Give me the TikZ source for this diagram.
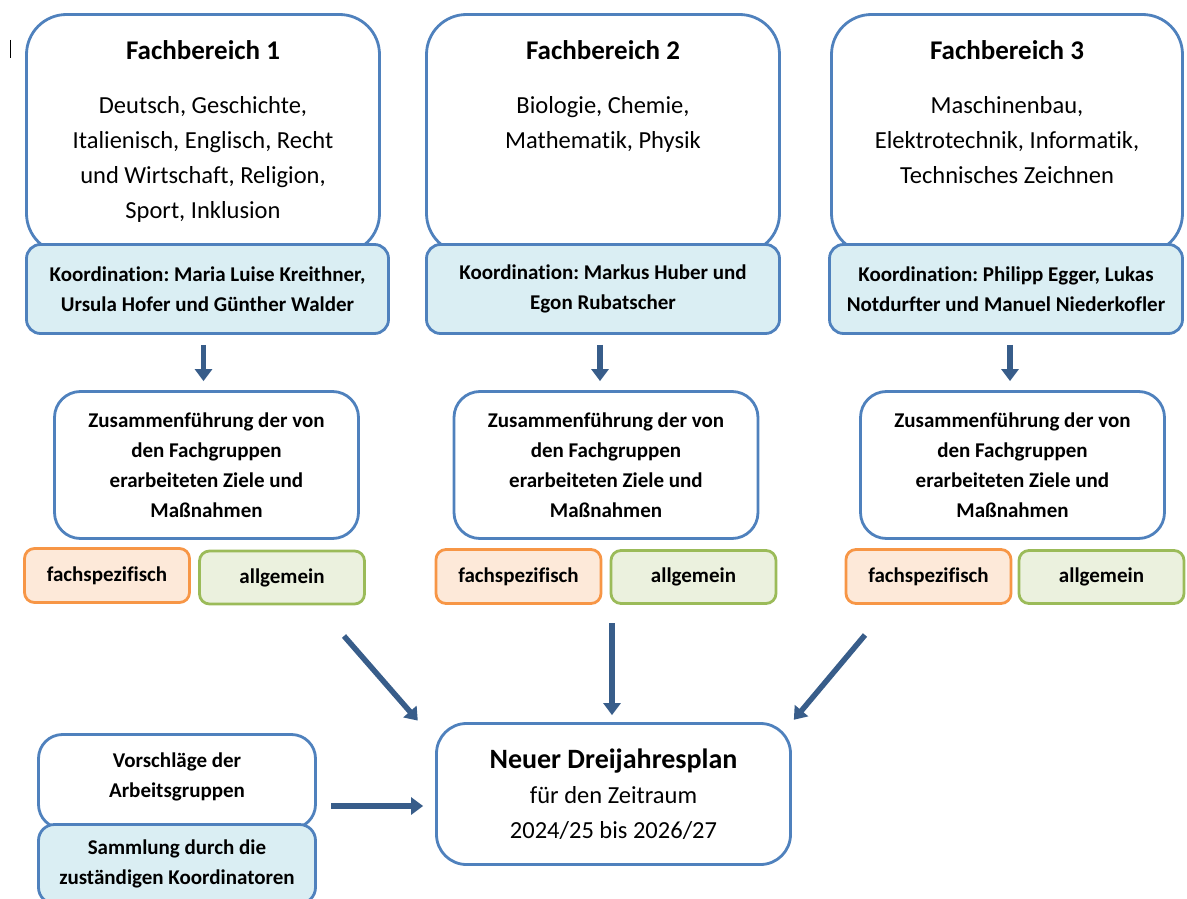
\documentclass[tikz,border=0pt]{standalone}
\usepackage{fontspec}
\setmainfont{Carlito}[Ligatures={NoCommon,NoRare,NoDiscretionary}]
\frenchspacing
\usetikzlibrary{positioning,arrows.meta}
\usepackage{xcolor}
\definecolor{ofblue}{RGB}{79,129,189}
\definecolor{koordfill}{RGB}{218,238,243}
\definecolor{arrowblue}{RGB}{56,93,138}
\definecolor{fachorange}{RGB}{247,150,70}
\definecolor{fachfill}{RGB}{253,233,217}
\definecolor{allggreen}{RGB}{155,187,89}
\definecolor{allgfill}{RGB}{235,241,222}
\newcommand{\fbbodyfont}{\fontsize{24.5}{35}\selectfont}
\newcommand{\smallbold}{\bfseries\fontsize{21}{30}\selectfont}
\tikzset{
  fbbox/.style={
    rectangle,
    draw=ofblue,
    line width=2.8pt,
    rounded corners=40pt,
    fill=white,
    minimum width=353pt,
    minimum height=239pt
  },
  koordbox/.style={
    rectangle,
    draw=ofblue,
    line width=2.8pt,
    rounded corners=14pt,
    fill=koordfill,
    minimum height=89pt,
    align=center,
    font=\smallbold
  },
  fbtitle/.style={
    inner sep=0pt,
    font=\bfseries\fontsize{27}{32}\selectfont
  },
  fbtext/.style={
    inner sep=0pt,
    align=center,
    font=\fbbodyfont
  },
  midbox/.style={
    rectangle,
    draw=ofblue,
    line width=2.8pt,
    rounded corners=26pt,
    fill=white,
    minimum width=304pt,
    minimum height=147pt,
    align=center,
    font=\smallbold
  },
  fachbox/.style={
    rectangle,
    draw=fachorange,
    line width=2.8pt,
    rounded corners=10pt,
    fill=fachfill,
    minimum width=165pt,
    minimum height=54pt,
    font=\smallbold
  },
  allgbox/.style={
    rectangle,
    draw=allggreen,
    line width=2.8pt,
    rounded corners=10pt,
    fill=allgfill,
    minimum width=165pt,
    minimum height=53pt,
    font=\smallbold
  },
  planbox/.style={
    rectangle,
    draw=ofblue,
    line width=2.8pt,
    rounded corners=30pt,
    fill=white,
    minimum width=354pt,
    minimum height=141pt,
    align=center,
    font=\fbbodyfont
  },
  vorbox/.style={
    rectangle,
    draw=ofblue,
    line width=2.8pt,
    rounded corners=24pt,
    fill=white,
    minimum width=277pt,
    minimum height=94pt
  },
  sammelbox/.style={
    rectangle,
    draw=ofblue,
    line width=2.8pt,
    rounded corners=16pt,
    fill=koordfill,
    minimum width=277pt,
    minimum height=79pt,
    align=center,
    font=\smallbold
  },
  vortext/.style={
    align=center,
    font=\smallbold
  },
  planarrow/.style={
    -{Triangle[length=12pt,width=17pt]},
    line width=5.5pt,
    draw=arrowblue
  }
}

\begin{document}
\begin{tikzpicture}[x=1pt,y=-1pt]
    \useasboundingbox (0,0) rectangle (1187,899);

    % cursor mark
    \draw[line width=1pt] (10,40) -- (10,58);

    % Fachbereiche
    \node (fb1) [fbbox] at (203,134) {};
    \node (fb2) [fbbox] at (603,134) {};
    \node (fb3) [fbbox, minimum width=351pt] at (1007,134) {};
    \node (fb1title) [fbtitle] at ([yshift=-37pt]fb1.north) {Fachbereich 1};
    \node (fb2title) [fbtitle] at ([yshift=-37pt]fb2.north) {Fachbereich 2};
    \node (fb3title) [fbtitle] at ([yshift=-37pt]fb3.north) {Fachbereich 3};
    \node (fb1text) [fbtext, below=36pt of fb1title] {Deutsch, Geschichte,\\Italienisch, Englisch, Recht\\und Wirtschaft, Religion,\\Sport, Inklusion};
    \node (fb2text) [fbtext, below=36pt of fb2title] {Biologie, Chemie,\\Mathematik, Physik};
    \node (fb3text) [fbtext, below=36pt of fb3title] {Maschinenbau,\\Elektrotechnik, Informatik,\\Technisches Zeichnen};

    \node (koord1) [koordbox, minimum width=362pt] at (207.5,289) {Koordination: Maria Luise Kreithner,\\Ursula Hofer und Günther Walder};
    \node (koord2) [koordbox, minimum width=353pt] at (603,289) {Koordination: Markus Huber und\\Egon Rubatscher};
    \node (koord3) [koordbox, minimum width=353pt] at (1006,289) {Koordination: Philipp Egger, Lukas\\Notdurfter und Manuel Niederkofler};

    % Zusammenfuehrung
    \node (mid1) [midbox] at (206.5,465) {Zusammenführung der von\\den Fachgruppen\\erarbeiteten Ziele und\\Maßnahmen};
    \node (mid2) [midbox] at (606,465) {Zusammenführung der von\\den Fachgruppen\\erarbeiteten Ziele und\\Maßnahmen};
    \node (mid3) [midbox] at (1012.5,465) {Zusammenführung der von\\den Fachgruppen\\erarbeiteten Ziele und\\Maßnahmen};

    \node (fach1) [fachbox] at (107,575.5) {fachspezifisch};
    \node (allg1) [allgbox] at (282,577.5) {allgemein};
    \node (fach2) [fachbox] at (518.5,576.5) {fachspezifisch};
    \node (allg2) [allgbox] at (693.5,577) {allgemein};
    \node (fach3) [fachbox] at (928.5,576.5) {fachspezifisch};
    \node (allg3) [allgbox] at (1101.5,577) {allgemein};

    % Dreijahresplan und Arbeitsgruppen
    \node (plan) [planbox] at (613.5,794) {{\bfseries\fontsize{28}{35}\selectfont Neuer Dreijahresplan}\\für den Zeitraum\\2024/25 bis 2026/27};
    \node (vor) [vorbox] at (177,781.5) {};
    \node (vortxt) [vortext] at (177,777) {Vorschläge der\\Arbeitsgruppen};
    \node (sammel) [sammelbox] at (177,864) {Sammlung durch die\\zuständigen Koordinatoren};

    \coordinate (from1) at (344,636);
    \coordinate (from2) at (612,623);
    \coordinate (from3) at (865,635);
    \coordinate (from4) at (331,806);

    \draw[planarrow, shorten <=10pt, shorten >=9pt] ([xshift=-4pt]koord1.south) -- ([xshift=-4pt]koord1.south |- mid1.north);
    \draw[planarrow, shorten <=10pt, shorten >=9pt] ([xshift=-3pt]koord2.south) -- ([xshift=-3pt]koord2.south |- mid2.north);
    \draw[planarrow, shorten <=10pt, shorten >=9pt] ([xshift=4pt]koord3.south) -- ([xshift=4pt]koord3.south |- mid3.north);
    \draw[planarrow, shorten >=2pt] (from1) -- ([xshift=-16pt]plan.north west);
    \draw[planarrow, shorten >=7pt] (from2) -- (from2 |- plan.north);
    \draw[planarrow, shorten >=3pt] (from3) -- (plan.north east);
    \draw[planarrow, shorten >=12pt] (from4) -- (from4 -| plan.west);
  \end{tikzpicture}
\end{document}
